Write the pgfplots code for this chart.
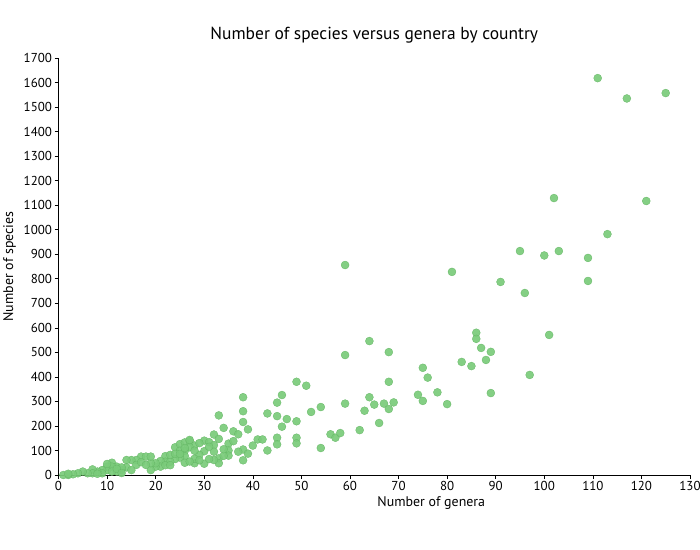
\documentclass[border=0pt]{standalone}
\usepackage{fontspec}
\setmainfont{PT Sans}
\usepackage{pgfplots}
\pgfplotsset{compat=1.18}
\definecolor{ptgreen}{RGB}{122,203,122}
\definecolor{ptedge}{RGB}{100,182,100}
\begin{document}
\begin{tikzpicture}
\begin{axis}[
  at={(58.5bp,75bp)}, anchor=south west,
  scale only axis, width=631.5bp, height=417bp,
  xmin=0, xmax=130, ymin=0, ymax=1700,
  xtick distance=10, ytick distance=100,
  axis x line*=bottom, axis y line*=left,
  tick align=outside,
  major tick length=4bp,
  every tick/.style={black, line width=0.6pt},
  axis line style={black, line width=0.8pt},
  tick label style={font=\fontsize{13}{14}\selectfont},
  yticklabel style={xshift=1bp},
  /pgf/number format/assume math mode=true,
  /pgf/number format/1000 sep={},
  xticklabel style={yshift=1.5bp},
  xlabel={Number of genera}, ylabel={Number of species},
  label style={font=\fontsize{14}{16}\selectfont},
  xlabel style={yshift=1bp, xshift=57bp},
  ylabel style={yshift=1bp},
  title={Number of species versus genera by country},
  title style={font=\fontsize{17.5}{20}\selectfont, yshift=5bp},
  clip=false,
]
\addplot[only marks, mark=*, mark size=4bp,
  mark options={fill=ptgreen, draw=ptedge, line width=0.3pt, fill opacity=0.92}]
  table[row sep=\\] {
x y\\
111 1618\\ 117 1535\\ 125 1557\\ 102 1129\\ 121 1117\\ 113 982\\
95 913\\ 100 895\\ 103 913\\ 109 885\\ 59 856\\ 81 828\\ 91 787\\
109 791\\ 96 742\\ 101 571\\ 86 580\\ 86 555\\ 64 546\\ 87 518\\
89 502\\ 88 469\\ 68 501\\ 59 489\\ 83 461\\ 85 444\\ 75 437\\
76 397\\ 97 408\\ 68 380\\ 49 380\\ 51 364\\ 38 317\\ 78 337\\
89 334\\ 74 327\\ 46 326\\ 75 302\\ 64 317\\ 65 287\\ 67 291\\
69 296\\ 59 291\\ 80 289\\ 45 295\\ 54 277\\ 52 257\\ 63 262\\
68 269\\ 38 260\\ 43 251\\ 45 240\\ 33 243\\ 47 228\\ 49 219\\
38 216\\ 66 212\\ 46 197\\ 39 186\\ 62 183\\ 34 192\\ 36 178\\
37 166\\ 32 165\\ 56 166\\ 57 152\\ 58 171\\ 41 145\\ 42 145\\
45 152\\ 49 152\\ 30 140\\ 31 134\\ 33 147\\ 35 128\\ 36 138\\
32 122\\ 45 125\\ 49 129\\ 40 120\\ 43 100\\ 54 110\\ 38 104\\
38 60\\ 37 95\\ 39 87\\ 35 100\\ 35 79\\ 33 68\\ 33 48\\ 30 46\\
32 61\\ 30 97\\ 29 82\\ 32 95\\ 34 78\\ 24 113\\ 25 126\\ 26 133\\
27 139\\ 28 120\\ 27 113\\ 25 99\\ 26 99\\ 28 99\\ 31 115\\
28 48\\ 28 66\\ 26 77\\ 25 71\\ 24 65\\ 22 77\\ 22 54\\ 23 54\\
21 57\\ 21 34\\ 20 34\\ 19 20\\ 20 48\\ 19 48\\ 23 82\\ 24 86\\
25 86\\ 17 75\\ 18 75\\ 19 75\\ 16 61\\ 15 61\\ 14 61\\ 16 41\\
17 52\\ 14 31\\ 15 20\\ 13 20\\ 11 50\\ 10 34\\ 12 34\\ 11 34\\
12 14\\ 10 20\\ 9 20\\ 9 7\\ 8 14\\ 7 23\\ 7 7\\ 6 7\\ 5 14\\
4 7\\ 3 3\\ 2 0\\ 1 0\\ 11 14\\ 13 31\\ 18 41\\ 2 5\\ 8 5\\
10 45\\ 12 25\\ 13 8\\ 22 40\\ 23 40\\ 26 50\\ 27 55\\ 29 60\\
31 65\\ 34 105\\ 27 143\\ 26 110\\ 29 130\\
};
\end{axis}
\pgfresetboundingbox
\path (0,0) rectangle (700bp,550bp);
\end{tikzpicture}
\end{document}
